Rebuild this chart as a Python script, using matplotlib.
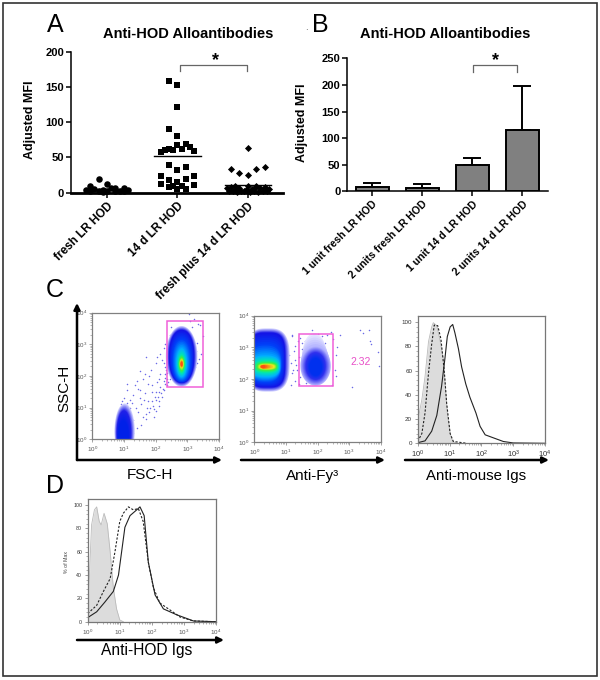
"""Anti-HOD alloantibody figure: panels A and B (MFI), C and D (flow cytometry)."""
import matplotlib

matplotlib.use("Agg")
import matplotlib.pyplot as plt
import numpy as np
from matplotlib.colors import to_rgb
from matplotlib.patches import Rectangle
from matplotlib.ticker import LogLocator, NullFormatter

plt.rcParams["font.family"] = ["Liberation Sans", "DejaVu Sans"]
plt.rcParams["mathtext.fontset"] = "custom"
plt.rcParams["mathtext.rm"] = "Liberation Sans"
plt.rcParams["mathtext.it"] = "Liberation Sans"
plt.rcParams["mathtext.bf"] = "Liberation Sans:bold"

W, H = 600, 680

# Panel A
a_labels = ["fresh LR HOD", "14 d LR HOD", "fresh plus 14 d LR HOD"]
a_means = [5, 52, 10.5]
fresh_x = [-.12, 0, -.24, .24, .12, -.30, -.18, -.06, .06, .18, .30, -.12, .12, 0, -.24, .24, -.06]
fresh_y = [19, 12, 9, 7, 6, 4, 5, 4, 6, 3, 4, 2, 2, 3, 3, 3, 0.5]
d14_x = [-.12, 0, 0, -.12, 0, .12, 0, -.12, .18, .24, -.24, -.18, -.06, .06, -.12, .12, 0,
         -.24, .24, -.12, .12, 0, -.24, .24, -.12, .06, -.06, 0, .12]
d14_y = [159, 153, 121, 91, 80, 69, 67, 62, 65, 59, 58, 60, 60, 62, 39, 37, 32,
         23, 23, 18, 20, 15, 12, 11, 8.5, 10, 9, 5, 5]
mix_x = [0, .25, -.24, .12, -.12, 0, -.30, -.24, -.18, -.12, -.06, 0, .06, .12, .18, .24, .30,
         -.27, -.21, -.15, -.09, -.03, .03, .09, .15, .21, .27, -.18, 0, .12]
mix_y = [63, 37, 34, 33, 28, 25, 6, 8, 4, 7, 3, 9, 5, 10, 6, 8, 5,
         2, 3, 1, 2, 4, 1, 3, 1, 3, 2, 9, 2, 8]

# Panel B
b_labels = ["1 unit fresh LR HOD", "2 units fresh LR HOD", "1 unit 14 d LR HOD", "2 units 14 d LR HOD"]
b_means = [8, 7, 49, 115]
b_err = [7, 7, 13, 83]

# Flow plots: density outlines as (centre x, centre y, half width, half height, squareness), in decades
c1_main = [(2.82, 2.62, .50, .96, 2), (2.82, 2.62, .40, .84, 2.2), (2.82, 2.50, .30, .68, 2.2),
           (2.82, 2.42, .17, .46, 2), (2.82, 2.38, .11, .30, 2), (2.82, 2.38, .08, .21, 2),
           (2.82, 2.38, .05, .13, 2), (2.82, 2.38, .03, .07, 2)]
c1_low = [(1.02, 0.25, .32, .88, 2), (1.00, 0.20, .23, .72, 2), (0.98, 0.10, .17, .50, 2)]
c1_low_colours = ["#d0d0ff", "#2020e8", "#0020e8"]
c1_gate = [2.36, 3.50, 1.64, 3.75]
c1_dots_x = [1.0, 1.1, .9, 1.2, .85, .8, 1.3, 1.4, 1.25, 1.5, 1.6, 1.7, 1.75, 1.8, 1.65, 1.55, 1.95, 2.0, 2.1,
             1.9, 2.05, 2.2, 2.25, 2.15, 2.3, 2.35, 2.3, 2.2, 2.4, 1.3, 1.35, 1.2, 1.45, 1.5, 1.75, 1.9, 1.6, 1.65,
             1.8, 1.85, 2.0, 2.1, 2.15, 2.35, 2.25, 1.45, 1.55, 1.05, 1.15, 1.1, .95, 3.05, 3.35, 2.45, 3.4, 3.2,
             1.5, 2.05, 2.15, 2.25, 1.7, 2.4, 2.28, 2.12, 1.95, 2.02, 1.4, 1.1, .78, .88, 1.38, 1.62,
             2.3, 2.33, 2.26, 2.38, 2.42, 2.36, 2.4, 2.31, 2.22, 2.18, 2.12, 2.08, 2.02, 1.98, 1.92, 1.88, 1.82,
             1.72, 1.68, 2.45, 2.5, 3.3, 3.28, 3.42, 3.36, 3.3, 3.25, 3.48, 2.5, 3.15, 3.1, 1.18, 1.12, 1.28, 1.08]
c1_dots_y = [1.3, 1.55, 1.1, 1.0, .8, .5, .6, .35, 1.15, 1.3, .7, .65, 1.2, .85, 1.45, 1.1, .95, 1.5, 1.2,
             1.7, 1.8, 1.35, 1.55, 1.65, 1.95, 2.1, 2.3, 2.5, 2.75, 1.4, 1.7, 1.25, 1.6, 1.55, 1.75, 1.5, 1.9, 2.05,
             2.0, 2.2, 2.4, 1.9, 2.05, 1.7, 1.85, .85, .45, .9, .75, 1.05, 1.2, 3.95, 3.65, 3.3, 3.6, 3.8,
             2.15, 2.6, 2.7, 2.9, 2.6, 3.1, 3.0, 1.05, .7, .9, 1.85, 1.75, .7, .95, 1.0, 1.25,
             2.05, 2.2, 2.4, 2.45, 2.6, 1.9, 1.8, 1.75, 1.6, 1.45, 1.5, 1.35, 1.25, 1.35, 1.05, 1.2, 1.0,
             1.0, .8, 1.9, 2.95, 3.05, 2.8, 2.7, 2.55, 2.4, 2.3, 3.25, 3.55, 3.55, 3.75, .3, .45, .2, 1.15]

c2_left = [(.42, 2.60, .70, 1.00, 3), (.40, 2.60, .58, .87, 3.5), (.35, 2.50, .52, .62, 2.6),
           (.35, 2.40, .46, .35, 2.6), (.38, 2.39, .38, .20, 2.6), (.40, 2.39, .31, .12, 2.6),
           (.40, 2.39, .24, .07, 2.6), (.28, 2.39, .07, .05, 2)]
c2_right = [(1.90, 2.85, .36, .60, 2), (1.94, 2.41, .48, .62, 2), (1.94, 2.41, .32, .44, 2), (1.94, 2.38, .20, .28, 2)]
c2_right_colours = ["#e8e8ff", "#b0b0ff", "#3030ee", "#0030ee"]
c2_gate = [1.42, 2.50, 1.79, 3.43]
c2_gate_value = "2.32"
c2_dots_x = [1.15, 1.2, 1.3, 1.25, 1.35, 1.4, 1.3, 1.45, 1.5, 1.2, 1.1, 1.28, 1.38, 2.55, 2.6, 2.7, 3.35, 3.65, 3.7,
             3.9, 3.95, 1.05, 1.15, 1.32, 1.22, 1.42, 2.58, 2.62, 3.08, 2.3, 1.75, 2.15, 2.0, 1.82, 2.25, 1.6, 2.45,
             1.45, 1.52, 1.18, 2.42, 3.45, 3.62, 2.48, 1.72, 1.78, 1.85, 1.92, 1.98, 2.05, 2.12, 2.18, 1.68, 1.64]
c2_dots_y = [2.5, 2.2, 2.6, 2.9, 2.3, 2.7, 1.95, 2.05, 2.95, 3.35, 2.75, 3.05, 3.2, 2.3, 2.75, 3.4, 3.55, 3.2, 3.1,
             2.85, 2.4, 2.15, 1.8, 2.45, 2.3, 1.85, 2.1, 3.0, 1.75, 3.4, 3.3, 3.35, 3.42, 3.55, 3.15, 3.2, 1.8,
             3.3, 3.15, 3.4, 3.5, 3.45, 3.55, 3.25, 3.25, 3.4, 3.28, 3.38, 3.22, 3.32, 3.18, 3.1, 2.95, 1.88]

level_colours = ["#d0d0ff", "#1414e6", "#0040f8", "#00b0ff", "#00e8b0", "#40f040", "#e8e820", "#ff5010"]

c3_grey_x = [0, .13, .23, .34, .44, .49, .6, .7, .81, .86, .93, 1.02, 1.1, 1.23]
c3_grey_y = [18, 36, 55, 84, 96, 99.5, 97, 85, 69, 49, 25, 8, 1.5, 0]
c3_dash_x = [0, .13, .23, .34, .44, .52, .63, .73, .84, .91, 1.02, 1.12, 1.55]
c3_dash_y = [1.5, 8, 25, 58, 82, 97.5, 97, 86, 58, 33, 8, 1.5, 0]
c3_line_x = [0, .23, .44, .6, .75, .86, .93, 1.02, 1.1, 1.17, 1.28, 1.38, 1.51, 1.64, 1.83, 1.96, 2.12, 2.43, 2.69, 3, 4]
c3_line_y = [.5, 2, 10, 23, 47, 71, 88, 96, 98, 91, 78, 63, 49, 38, 25, 14, 7, 4, 1.5, .3, 0]

d_grey_x = [0, .05, .12, .21, .28, .36, .42, .51, .61, .7, .8, .9, 1.0, 1.11]
d_grey_y = [10, 37, 83, 96, 98.5, 86, 83, 93, 84, 60, 29, 11, 1.5, 0]
d_dash_x = [0, .28, .49, .7, .85, 1.0, 1.11, 1.27, 1.42, 1.58, 1.73, 1.89, 2.05, 2.25, 2.57, 2.88, 3.3, 4]
d_dash_y = [7, 14, 26, 37, 60, 86, 93, 98.5, 96, 97, 86, 51, 29, 16, 10, 4, .6, 0]
d_line_x = [0, .28, .54, .8, .96, 1.16, 1.32, 1.53, 1.63, 1.76, 1.89, 2.1, 2.36, 2.77, 3.3, 4]
d_line_y = [3.5, 8.5, 17, 26, 40, 81, 91, 96, 98.5, 91, 51, 23, 11, 6, .6, 0]


def px_axes(fig, left, top, right, bottom):
    return fig.add_axes([left / W, 1 - bottom / H, (right - left) / W, (bottom - top) / H])


def style_bold_axes(ax, spine_width):
    for side in ["top", "right"]:
        ax.spines[side].set_visible(False)
    ax.spines["left"].set_linewidth(1.1)
    ax.spines["bottom"].set_linewidth(spine_width)
    ax.tick_params(axis="y", length=3.5, width=1.1, pad=1.5, labelsize=8)
    ax.tick_params(axis="x", length=3.5, width=1.1, pad=2)
    for lab in ax.get_yticklabels():
        lab.set_fontweight("bold")


def bracket(ax, x0, x1, y_top, y_low, star_x, star_y):
    ax.plot([x0, x0, x1, x1], [y_low, y_top, y_top, y_low], color="#666666", lw=0.9, clip_on=False)
    ax.text(star_x, star_y, "*", ha="center", va="center", fontsize=13, fontweight="bold", clip_on=False)


def log_axes(ax, tick_colour, label_size, label_colour):
    ax.set_xscale("log")
    ax.set_xlim(1, 1e4)
    ax.xaxis.set_major_locator(LogLocator(base=10, numticks=6))
    ax.xaxis.set_minor_locator(LogLocator(base=10, subs=np.arange(2, 10), numticks=6))
    ax.xaxis.set_minor_formatter(NullFormatter())
    ax.set_xticks([1, 10, 100, 1000, 10000], ["$10^{%d}$" % i for i in range(5)])
    ax.tick_params(which="major", length=2.5, width=0.5, color=tick_colour, labelsize=label_size,
                   labelcolor=label_colour, pad=1.5)
    ax.tick_params(which="minor", length=1.3, width=0.4, color=tick_colour)
    for spine in ax.spines.values():
        spine.set_color(tick_colour)
        spine.set_linewidth(0.9)


def density_axes(ax):
    log_axes(ax, "#808080", 4.5, "#555555")
    ax.set_yscale("log")
    ax.set_ylim(1, 1e4)
    ax.yaxis.set_minor_locator(LogLocator(base=10, subs=np.arange(2, 10), numticks=6))
    ax.yaxis.set_minor_formatter(NullFormatter())
    ax.set_yticks([1, 10, 100, 1000, 10000], ["$10^{%d}$" % i for i in range(5)])
    ax.tick_params(axis="y", which="major", length=2.5, width=0.5, color="#808080", labelsize=4.5,
                   labelcolor="#555555", pad=1)
    ax.tick_params(axis="y", which="minor", length=1.3, width=0.4, color="#808080")


def draw_levels(ax, levels, colours, steps=6):
    # fade between the read outlines so the blob has no hard rings
    t = np.linspace(0, 2 * np.pi, 160)
    for i in range(len(levels)):
        for k in range(steps if i < len(levels) - 1 else 1):
            f = k / steps
            nxt = min(i + 1, len(levels) - 1)
            cx, cy, a, b, n = (1 - f) * np.array(levels[i]) + f * np.array(levels[nxt])
            colour = (1 - f) * np.array(to_rgb(colours[i])) + f * np.array(to_rgb(colours[nxt]))
            dx = np.sign(np.cos(t)) * np.abs(np.cos(t)) ** (2 / n)
            dy = np.sign(np.sin(t)) * np.abs(np.sin(t)) ** (2 / n)
            ax.fill(10 ** (cx + a * dx), 10 ** (cy + b * dy), color=colour, lw=0)


def draw_gate(ax, gate):
    x0, x1, y0, y1 = [10 ** v for v in gate]
    ax.add_patch(Rectangle((x0, y0), x1 - x0, y1 - y0, fill=False, ec="#f060d8", lw=1.1, zorder=5))


def histogram(ax, grey_x, grey_y, dash_x, dash_y, line_x, line_y):
    log_axes(ax, "#777777", 5.5, "#333333")
    ax.fill_between(10 ** np.array(grey_x), grey_y, color="#dcdcdc", lw=0)
    ax.plot(10 ** np.array(grey_x), grey_y, color="#bbbbbb", lw=0.6)
    ax.plot(10 ** np.array(dash_x), dash_y, color="#222222", lw=0.8, ls=(0, (2, 1.5)))
    ax.plot(10 ** np.array(line_x), line_y, color="#222222", lw=0.8)
    ax.set_ylim(0, 105)
    ax.set_yticks(range(0, 101, 20))
    ax.set_yticks(range(0, 101, 4), minor=True)
    ax.tick_params(axis="y", which="major", labelsize=4.5, pad=1.5, labelcolor="#333333")


fig = plt.figure(figsize=(W / 100, H / 100), dpi=100)

# overlay in pixel coordinates for the border, arrows and free text
over = fig.add_axes([0, 0, 1, 1], zorder=10)
over.set_xlim(0, W)
over.set_ylim(H, 0)
over.axis("off")
over.patch.set_alpha(0)
over.add_patch(Rectangle((3, 3), 593.5, 673, fill=False, ec="#333333", lw=1.2))

for letter, x, y in [("A", 55, 25), ("B", 320, 25), ("C", 55, 290), ("D", 55, 486)]:
    over.text(x, y, letter, fontsize=18, ha="center", va="center")
over.text(306, 27, ".", fontsize=7, color="#555555", ha="center", va="center")
over.text(188, 34, "Anti-HOD Alloantibodies", fontsize=10.5, fontweight="bold", ha="center", va="center")
over.text(445, 34, "Anti-HOD Alloantibodies", fontsize=10.5, fontweight="bold", ha="center", va="center")
over.text(30, 120, "Adjusted MFI", fontsize=9, fontweight="bold", rotation=90, ha="center", va="center")
over.text(302.5, 123, "Adjusted MFI", fontsize=9, fontweight="bold", rotation=90, ha="center", va="center")

over.text(64, 388, "SSC-H", fontsize=11, rotation=90, ha="center", va="center")
over.text(150, 475, "FSC-H", fontsize=11, ha="center", va="center")
over.text(313, 476, "Anti-Fy\u00b3", fontsize=11, ha="center", va="center")
over.text(476, 476, "Anti-mouse Igs", fontsize=10.8, ha="center", va="center")
over.text(147, 651, "Anti-HOD Igs", fontsize=11.2, ha="center", va="center")
over.text(66.5, 562, "% of Max", fontsize=3.8, color="#444444", rotation=90, ha="center", va="center")

for x0, y0, x1, y1 in [(77, 460, 77, 303), (77, 460, 222, 460), (241, 460, 385, 460),
                       (405, 460, 549, 460), (77, 640, 224, 640)]:
    over.annotate("", xy=(x1, y1), xytext=(x0, y0),
                  arrowprops=dict(arrowstyle="-|>", color="black", lw=1.8, mutation_scale=9,
                                  shrinkA=0, shrinkB=0))

# A
ax_a = px_axes(fig, 71, 51.7, 283, 192.7)
ax_a.scatter(np.array(fresh_x), fresh_y, marker="o", s=22, color="black", lw=0, clip_on=False, zorder=3)
ax_a.scatter(1 + np.array(d14_x), d14_y, marker="s", s=19, color="black", lw=0, clip_on=False, zorder=3)
ax_a.scatter(2 + np.array(mix_x), mix_y, marker="D", s=13, color="black", lw=0, clip_on=False, zorder=3)
for i, m in enumerate(a_means):
    ax_a.plot([i - .33, i + .33], [m, m], color="black", lw=1.0, zorder=4)
ax_a.set_xlim(-.512, 2.5)
ax_a.set_ylim(0, 200)
ax_a.set_yticks([0, 50, 100, 150, 200])
ax_a.set_xticks([0, 1, 2], a_labels, rotation=45, ha="right", rotation_mode="anchor", fontsize=8.5, fontweight="bold")
style_bold_axes(ax_a, 2)
bracket(ax_a, 1.04, 1.99, 181.5, 172, 1.54, 188)

# B
ax_b = px_axes(fig, 347.3, 58.3, 547.5, 191.3)
ax_b.bar(range(4), b_means, width=.66, color="#808080", edgecolor="black", lw=1.4, zorder=3)
ax_b.errorbar(range(4), b_means, yerr=[np.zeros(4), b_err], fmt="none", ecolor="black", elinewidth=1.4,
              capsize=6.5, capthick=1.4, zorder=2)
ax_b.set_xlim(-.5, 3.5)
ax_b.set_ylim(0, 250)
ax_b.set_yticks(range(0, 251, 50))
ax_b.set_xticks(range(4), b_labels, rotation=45, ha="right", rotation_mode="anchor", fontsize=7.6, fontweight="bold")
style_bold_axes(ax_b, 1.1)
bracket(ax_b, 2.02, 2.9, 238, 225, 2.47, 246)

# C, scatter of FSC and SSC
ax_c1 = px_axes(fig, 92.3, 312.7, 219, 439.3)
density_axes(ax_c1)
ax_c1.scatter(10 ** np.array(c1_dots_x), 10 ** np.array(c1_dots_y), s=1.2, color="#6a6ae6", lw=0)
draw_levels(ax_c1, c1_low, c1_low_colours)
draw_levels(ax_c1, c1_main, level_colours)
draw_gate(ax_c1, c1_gate)

# C, Fy3 gate
ax_c2 = px_axes(fig, 254.3, 315.7, 380.7, 442.3)
density_axes(ax_c2)
ax_c2.scatter(10 ** np.array(c2_dots_x), 10 ** np.array(c2_dots_y), s=1.2, color="#6a6ae6", lw=0)
draw_levels(ax_c2, c2_left, level_colours)
draw_levels(ax_c2, c2_right, c2_right_colours)
draw_gate(ax_c2, c2_gate)
ax_c2.text(10 ** 3.04, 10 ** 2.53, c2_gate_value, color="#e850c8", fontsize=7.5, ha="left", va="center")

# C, histogram
ax_c3 = px_axes(fig, 417.7, 316, 545, 443.3)
histogram(ax_c3, c3_grey_x, c3_grey_y, c3_dash_x, c3_dash_y, c3_line_x, c3_line_y)

# D
ax_d = px_axes(fig, 87.7, 499.3, 216, 621.7)
histogram(ax_d, d_grey_x, d_grey_y, d_dash_x, d_dash_y, d_line_x, d_line_y)
ax_d.tick_params(axis="x", which="major", labelsize=4.5, labelcolor="#555555")
ax_d.tick_params(axis="y", which="major", labelsize=3.8)

fig.savefig("out.png", dpi=100)
